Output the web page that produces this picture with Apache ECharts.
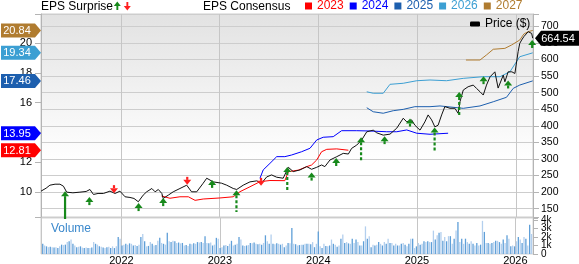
<!DOCTYPE html>
<html><head><meta charset="utf-8">
<script src="https://cdn.jsdelivr.net/npm/echarts@6/dist/echarts.min.js"></script>
<style>html,body{margin:0;padding:0;background:#fff}#c{width:579px;height:264px}</style>
</head><body><div id="c"></div>
<script>
// ---------------- data ----------------
const priceDates = ['2021-03-11','2021-03-30','2021-04-13','2021-05-02','2021-05-20','2021-06-02','2021-06-14','2021-07-07','2021-08-02','2021-08-25','2021-09-08','2021-09-21','2021-10-08','2021-10-28','2021-11-21','2021-12-10','2021-12-28','2022-01-16','2022-02-03','2022-02-18','2022-03-06','2022-03-24','2022-04-06','2022-04-25','2022-05-07','2022-05-19','2022-06-01','2022-06-06','2022-06-25','2022-07-13','2022-08-07','2022-09-01','2022-09-19','2022-10-08','2022-11-01','2022-11-14','2022-12-08','2023-01-08','2023-01-27','2023-02-20','2023-03-05','2023-03-29','2023-04-23','2023-05-18','2023-06-05','2023-06-24','2023-07-12','2023-07-31','2023-08-24','2023-09-12','2023-09-30','2023-10-25','2023-11-19','2023-12-07','2023-12-26','2024-01-13','2024-01-25','2024-02-13','2024-03-09','2024-04-02','2024-04-21','2024-05-03','2024-05-22','2024-06-09','2024-06-28','2024-07-22','2024-08-04','2024-08-28','2024-09-22','2024-10-17','2024-11-10','2024-11-23','2024-12-11','2024-12-23','2025-01-11','2025-01-29','2025-02-10','2025-02-23','2025-03-07','2025-03-19','2025-04-01','2025-04-13','2025-05-02','2025-05-20','2025-06-01','2025-06-08','2025-06-20','2025-07-08','2025-07-27','2025-08-08','2025-08-21','2025-09-02','2025-09-14','2025-09-27','2025-10-15','2025-10-27','2025-11-15','2025-11-21','2025-12-03','2025-12-17','2025-12-28','2026-01-09','2026-01-15','2026-01-22','2026-01-30','2026-02-15','2026-02-28','2026-03-04'];
const priceValues = [203,212,221,224,224,218,200,198,200,202,208,193,196,196,203,196,203,186,184,181,171,191,201,211,201,208,196,181,191,201,211,221,201,201,227,242,231,227,221,211,208,221,231,234,227,246,252,245,242,275,262,267,277,269,275,282,277,297,307,317,315,332,342,357,382,387,379,372,375,393,423,412,418,402,387,412,433,418,397,402,433,458,453,453,438,473,508,518,523,513,503,493,523,548,563,514,553,533,563,563,558,624,649,659,669,684,679,664.54];

const eps2023Dates = ['2022-05-31','2022-07-01','2022-08-07','2022-09-07','2022-10-02','2022-11-01','2023-01-02','2023-02-20','2023-03-17','2023-04-23','2023-05-30','2023-07-06','2023-08-30','2023-09-12','2023-10-20','2023-11-19','2023-12-07','2023-12-26','2024-01-13','2024-02-01','2024-03-09','2024-04-21'];
const eps2023 = [9.74,9.59,9.69,9.69,9.45,9.54,9.61,9.69,10.03,10.36,10.70,10.78,10.77,11.37,11.48,11.71,11.82,12.16,12.71,12.87,12.90,12.81];
const eps2024Dates = ['2023-05-30','2023-06-11','2023-07-06','2023-07-31','2023-08-30','2023-09-24','2023-10-31','2023-12-01','2023-12-26','2024-01-19','2024-02-25','2024-03-27','2024-05-22','2024-07-10','2024-09-10','2024-10-17','2024-11-23','2024-12-30','2025-02-17','2025-04-25'];
const eps2024 = [10.93,11.49,11.93,12.38,12.38,12.49,12.71,12.94,13.50,13.68,13.72,14.12,14.12,14.10,14.05,14.05,14.17,13.95,13.88,13.95];
const eps2025Dates = ['2024-06-28','2024-07-22','2024-08-28','2024-10-04','2024-11-10','2024-12-23','2025-02-17','2025-03-26','2025-06-20','2025-08-21','2025-10-09','2025-11-27','2025-12-22','2026-01-15','2026-03-04'];
const eps2025 = [15.66,15.39,15.29,15.46,15.55,15.73,15.73,15.78,15.62,15.78,16.06,16.36,16.96,17.18,17.46];
const eps2026Dates = ['2024-06-28','2024-07-22','2024-08-28','2024-09-22','2024-11-10','2024-12-30','2025-02-17','2025-04-19','2025-06-20','2025-09-02','2025-11-03','2025-12-10','2026-01-03','2026-01-15','2026-03-04'];
const eps2026 = [16.73,16.63,16.63,17.23,17.30,17.47,17.52,17.47,17.63,17.74,17.74,18.08,18.75,19.08,19.34];
const eps2027Dates = ['2025-06-30','2025-08-21','2025-09-14','2025-10-09','2025-11-21','2025-12-16','2026-01-15','2026-01-30','2026-02-15','2026-03-04'];
const eps2027 = [18.86,18.86,19.20,19.58,19.64,19.87,20.20,20.60,20.76,20.84];

const consensusYears = ['2023','2024','2025','2026','2027'];
const consensusLatest = [12.81, 13.95, 17.46, 19.34, 20.84];
const lastPrice = 664.54;

const surpriseDates = ['2021-06-08','2021-09-06','2021-12-06','2022-03-07','2022-06-06','2022-09-03','2022-12-04','2023-03-04','2023-06-03','2023-09-08','2023-12-07','2024-03-07','2024-06-07','2024-09-02','2024-12-05','2025-03-06','2025-06-05','2025-09-03','2025-12-03','2026-03-02'];
const surpriseDirection = [1,1,-1,1,1,-1,1,1,-1,1,1,1,1,1,1,1,1,1,1,1];
const surprisePrice = [203,185,197,167,182,222,237,206,219,276,259,303,366,369,422,395,502,550,537,659];
const surpriseMagnitude = [90,30,30,30,30,30,30,66,27,75,27,27,72,27,27,75,72,27,27,24];

const volumeStart = '2021-03-15';
const volumeValues = [
1.2,1.0,0.9,0.8,0.85,0.8,0.75,0.8,0.7,0.9,
1.1,1.05,1.1,1.4,1.5,1.7,1.2,1.0,0.8,0.85,
0.9,0.75,0.7,0.75,0.7,0.7,0.75,1.4,1.2,1.1,
0.9,0.85,0.75,0.7,0.8,0.85,0.7,0.9,0.7,0.9,
2.0,1.8,1.0,1.1,1.2,1.1,1.25,1.2,1.0,1.05,
0.95,1.1,2.0,2.35,1.5,0.9,0.95,1.4,1.2,1.0,
1.05,1.55,1.9,1.3,1.2,1.1,2.5,1.5,1.4,1.55,
1.5,1.3,1.35,1.25,1.3,1.0,1.05,0.95,1.2,1.15,
1.25,1.2,1.4,1.35,1.4,1.3,2.1,1.3,1.25,1.35,
1.0,1.1,1.9,1.8,0.7,0.8,1.0,1.05,0.95,1.2,
1.55,1.0,1.1,1.2,2.0,1.7,1.0,0.95,1.0,1.05,
1.3,1.25,1.35,1.2,1.15,1.2,1.1,1.3,2.2,1.5,
1.2,2.3,1.2,1.15,1.25,1.2,1.1,1.2,0.8,1.0,
1.3,1.25,3.05,
1.2,1.15,1.0,1.05,1.1,1.1,1.2,1.2,1.2,1.15,
1.4,0.8,1.2,2.65,0.9,0.7,1.2,0.95,0.9,1.0,
1.7,1.2,1.1,0.85,1.0,1.8,2.3,1.3,1.4,1.25,
1.2,1.8,1.3,1.7,1.4,1.0,1.0,1.5,3.25,1.8,
2.1,0.8,1.1,1.0,1.1,1.4,1.2,1.0,1.4,1.2,
1.8,1.3,1.3,1.0,1.2,1.0,1.0,1.2,1.3,
1.1,0.9,1.2,1.8,1.8,0.7,0.9,1.3,1.1,1.2,
1.5,1.4,1.5,1.4,1.4,2.75,1.7,2.2,2.5,2.6,
1.55,2.0,1.5,2.1,2.1,1.2,1.8,2.75,3.75,1.4,
1.8,1.2,1.8,1.4,1.2,1.5,1.2,1.0,1.3,
1.0,1.1,3.9,2.6,1.3,1.3,1.2,1.3,1.4,1.55,
1.55,1.4,1.2,1.7,1.3,2.2,1.8,0.9,1.0,0.9,
1.5,2.0,1.7,1.3,2.0,1.8,1.0,3.45,2.35];

const yearLabels = ['2022','2023','2024','2025','2026'];
const priceTickLabels = [150,200,250,300,350,400,450,500,550,600,650,700];
const epsTickLabels = [10,12,14,16,18,20];
const volumeTickLabels = ['0','1k','2k','3k','4k'];

// ---------------- chart ----------------
const FONT = '"Liberation Sans", Arial, Helvetica, sans-serif';
const consensusColors = ['#ff0000','#0000ff','#1d5fae','#3c9fd3','#b07c30'];
function ts(s){const p=s.split('-').map(Number);return new Date(p[0],p[1]-1,p[2]).getTime();}
const T0 = ts('2021-03-11'), T1 = ts('2026-03-05');
const DAY = 86400000;
const near = (v, r, t) => Math.abs(v - r) < (t || 1e-6);

const epsSets = [[eps2023Dates,eps2023],[eps2024Dates,eps2024],[eps2025Dates,eps2025],[eps2026Dates,eps2026],[eps2027Dates,eps2027]];
const lastDate = ts(priceDates[priceDates.length-1]);

function yearFormatter(v){
  const d = new Date(v);
  const y = String(d.getFullYear());
  return (d.getMonth()===0 && d.getDate()===1 && yearLabels.includes(y)) ? y : '';
}

const chart = echarts.init(document.getElementById('c'), null, {renderer:'canvas'});

const series = [];
epsSets.forEach((s, i) => {
  series.push({
    name: consensusYears[i], type:'line', xAxisIndex:0, yAxisIndex:1,
    data: s[0].map((d, j) => [ts(d), s[1][j]]),
    showSymbol:false, symbol:'none', z:2,
    lineStyle:{color:consensusColors[i], width:1},
    itemStyle:{color:consensusColors[i]}
  });
});
series.push({
  name:'Price ($)', type:'line', xAxisIndex:0, yAxisIndex:0,
  data: priceDates.map((d,i)=>[ts(d), priceValues[i]]),
  showSymbol:false, symbol:'none', z:3,
  lineStyle:{color:'#111', width:1}, itemStyle:{color:'#000'}
});
series.push({
  name:'surprise', type:'custom', xAxisIndex:0, yAxisIndex:0, z:4, silent:true,
  data: surpriseDates.map((d,i)=>[ts(d), surprisePrice[i], surpriseMagnitude[i], surpriseDirection[i]]),
  renderItem: function(params, api){
    const d = api.value(0), tip = api.value(1), mag = api.value(2), dir = api.value(3);
    const p0 = api.coord([d, tip]);
    const p1 = api.coord([d, tip - dir*mag]);
    const cs = params.coordSys;
    const bottom = cs.y + cs.height;
    let yTail = p1[1], clipped = false;
    if (yTail > bottom + 2) { yTail = bottom + 2; clipped = true; }
    const x = p0[0], yTip = p0[1];
    const yBase = yTip + dir*5;
    const color = dir > 0 ? '#17891b' : '#ff1f1f';
    return {type:'group', children:[
      {type:'line', shape:{x1:x, y1:yBase, x2:x, y2:yTail}, style:{stroke:color, lineWidth:2.2, lineDash: clipped ? null : [3,2]}},
      {type:'polygon', shape:{points:[[x, yTip],[x-4, yBase],[x+4, yBase]]}, style:{fill:color}}
    ]};
  }
});
series.push({
  name:'volume', type:'bar', xAxisIndex:1, yAxisIndex:2, z:2, barWidth:1.3,
  data: volumeValues.map((v,i)=>[ts(volumeStart) + i*7*DAY, v]),
  itemStyle:{color: p => (p.dataIndex % 2 ? '#b3cfee' : '#5f9fd8')}
});
// bottom tick label of the volume axis, placed through the volume axis scale
series.push({
  name:'volumeZeroLabel', type:'custom', xAxisIndex:1, yAxisIndex:2, z:6, silent:true, clip:false,
  data: [[T1, 0]],
  renderItem: function(params, api){
    const y = api.coord([api.value(0), api.value(1)])[1];
    const x = params.coordSys.x + params.coordSys.width + 8;
    return {type:'text', style:{text: volumeTickLabels[0], x:x, y:y, align:'left', verticalAlign:'middle', fill:'#000', font:'10px '+FONT}};
  }
});
series.push({
  name:'consensusTags', type:'custom', xAxisIndex:0, yAxisIndex:1, z:6, silent:true, clip:false,
  data: consensusLatest.map((v,i)=>[lastDate, v, i]),
  renderItem: function(params, api){
    const y = api.coord([api.value(0), api.value(1)])[1];
    const xr = params.coordSys.x;
    const color = consensusColors[api.value(2)];
    return {type:'group', children:[
      {type:'polygon', shape:{points:[[1,y-7],[xr-6,y-7],[xr,y],[xr-6,y+7],[1,y+7]]}, style:{fill:color}},
      {type:'text', style:{text: api.value(1).toFixed(2), x:17, y:y+0.5, align:'center', verticalAlign:'middle', fill:'#fff', font:'11px '+FONT}}
    ]};
  }
});
series.push({
  name:'priceTag', type:'custom', xAxisIndex:0, yAxisIndex:0, z:6, silent:true, clip:false,
  data: [[lastDate, lastPrice]],
  renderItem: function(params, api){
    const y = api.coord([api.value(0), api.value(1)])[1];
    const xl = params.coordSys.x + params.coordSys.width + 2;
    return {type:'group', children:[
      {type:'polygon', shape:{points:[[xl,y],[xl+6,y-7.5],[579,y-7.5],[579,y+7.5],[xl+6,y+7.5]]}, style:{fill:'#000'}},
      {type:'text', style:{text: api.value(1).toFixed(2), x:558, y:y+0.5, align:'center', verticalAlign:'middle', fill:'#fff', font:'11px '+FONT}}
    ]};
  }
});

const axisGray = '#b4b4b4';
const option = {
  animation:false,
  backgroundColor:'#fff',
  textStyle:{fontFamily:FONT},
  grid:[
    {left:41, top:14, width:492, height:203, show:true, containLabel:false, outerBoundsMode:'none',
     backgroundColor: new echarts.graphic.LinearGradient(0,0,0,1,[{offset:0,color:'#e2e2e2'},{offset:0.72,color:'#ffffff'},{offset:1,color:'#ffffff'}]),
     borderColor:'#cccccc', borderWidth:1},
    {left:41, top:218, width:492, height:36, show:true, containLabel:false, outerBoundsMode:'none',
     backgroundColor:'#ffffff', borderColor:'#d4d4d4', borderWidth:1}
  ],
  xAxis:[
    {gridIndex:0, type:'time', min:T0, max:T1, splitNumber:5,
     axisLabel:{show:false}, axisTick:{show:false}, axisLine:{show:false},
     splitLine:{show:true, lineStyle:{color:'#c6c6c6', width:1}}},
    {gridIndex:1, type:'time', min:T0, max:T1, splitNumber:5,
     axisLabel:{show:true, color:'#000', fontSize:11, fontFamily:FONT, margin:1, formatter:yearFormatter, hideOverlap:false},
     axisTick:{show:false}, axisLine:{show:false},
     splitLine:{show:true, lineStyle:{color:'#c6c6c6', width:1}}}
  ],
  yAxis:[
    {gridIndex:0, type:'value', position:'right', min:125, max:737.5, splitNumber:11,
     axisLine:{show:true, lineStyle:{color:axisGray}},
     axisTick:{show:true, inside:false, length:6, lineStyle:{color:axisGray}},
     axisLabel:{show:true, color:'#000', fontSize:10.5, fontFamily:FONT, margin:8,
       formatter: v => { const r = Math.round(v); return (near(v,r) && priceTickLabels.includes(r)) ? String(r) : ''; }},
     splitLine:{show:true, lineStyle:{color:'#cdcdcd', width:1}}},
    {gridIndex:0, type:'value', position:'left', min:8.333333, max:21.944444, splitNumber:7,
     axisLine:{show:true, lineStyle:{color:axisGray}},
     axisTick:{show:true, inside:false, length:6, lineStyle:{color:axisGray}},
     axisLabel:{show:true, color:'#000', fontSize:11, fontFamily:FONT, margin:9,
       formatter: v => { const r = Math.round(v); return (near(v,r) && epsTickLabels.includes(r)) ? String(r) : ''; }},
     splitLine:{show:false}},
    {gridIndex:1, type:'value', position:'right', min:0, max:4.235, splitNumber:4,
     axisLine:{show:true, lineStyle:{color:axisGray}},
     axisTick:{show:true, inside:false, length:5, lineStyle:{color:axisGray}},
     axisLabel:{show:true, color:'#000', fontSize:10, fontFamily:FONT, margin:8,
       formatter: v => { const r = Math.round(v); return (r > 0 && near(v,r,0.05) && volumeTickLabels[r] !== undefined) ? volumeTickLabels[r] : ''; }},
     splitLine:{show:false}}
  ],
  legend:[
    {data: consensusYears.map((y,i)=>({name:y, icon:'rect', textStyle:{color:consensusColors[i]}})),
     left:305, top:0, padding:0, itemWidth:7, itemHeight:7, itemGap:6, selectedMode:false,
     textStyle:{fontSize:12, fontFamily:FONT}},
    {data:[{name:'Price ($)', icon:'roundRect'}],
     left:470, top:18, padding:0, itemWidth:10, itemHeight:5, selectedMode:false,
     textStyle:{fontSize:12, fontFamily:FONT, color:'#000'}}
  ],
  graphic:[
    {type:'text', x:41, y:7, style:{text:'EPS Surprise', fill:'#000', font:'12px '+FONT, verticalAlign:'middle'}},
    {type:'group', children:[
      {type:'polygon', shape:{points:[[117.3,1.5],[113.8,6],[120.8,6]]}, style:{fill:'#17891b'}},
      {type:'rect', shape:{x:116.4, y:6, width:1.9, height:4}, style:{fill:'#17891b'}},
      {type:'polygon', shape:{points:[[127.3,10.5],[123.8,6],[130.8,6]]}, style:{fill:'#ff1f1f'}},
      {type:'rect', shape:{x:126.4, y:2, width:1.9, height:4}, style:{fill:'#ff1f1f'}}
    ]},
    {type:'text', x:203, y:7, style:{text:'EPS Consensus', fill:'#000', font:'12px '+FONT, verticalAlign:'middle'}},
    {type:'text', x:51, y:228.5, z:10, style:{text:'Volume', fill:'#3a88cc', font:'12px '+FONT, verticalAlign:'middle'}}
  ],
  series: series
};
chart.setOption(option);
</script>
</body></html>
